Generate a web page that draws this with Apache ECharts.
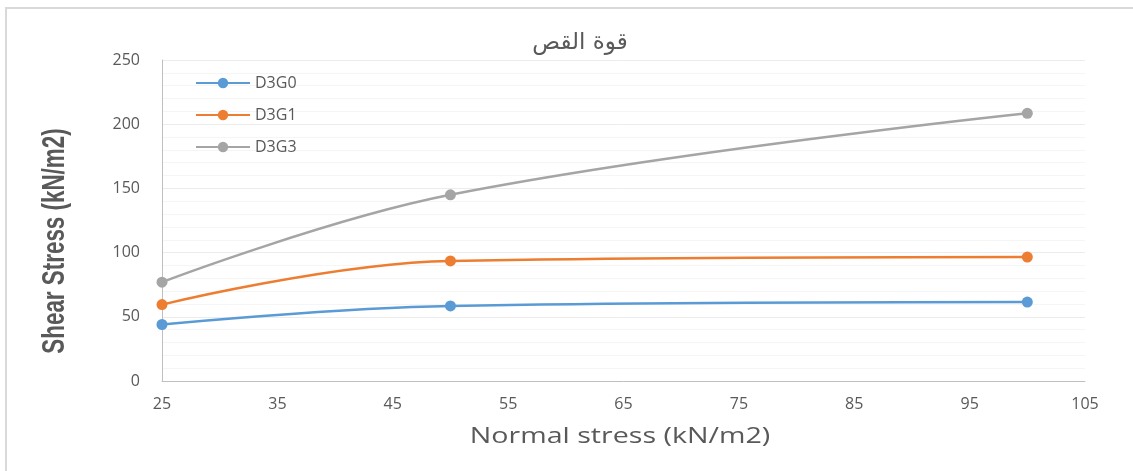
<!DOCTYPE html>
<html>
<head>
<meta charset="utf-8">
<script src="https://cdn.jsdelivr.net/npm/echarts@6/dist/echarts.min.js"></script>
<style>
html,body{margin:0;padding:0;background:#fff;}
#chart{width:1133px;height:471px;}
</style>
</head>
<body>
<div id="chart"></div>
<script>
var titleText = 'قوة القص';
var xName = 'Normal stress (kN/m2)';
var yName = 'Shear Stress (kN/m2)';
var seriesNames = ['D3G0', 'D3G1', 'D3G3'];
var seriesColors = ['#5b9bd5', '#ed7d31', '#a5a5a5'];
var normalStress = [25, 50, 100];
var d3g0 = [44, 58.5, 61.5];
var d3g1 = [59.5, 93.5, 96.5];
var d3g3 = [77, 145, 208.5];
var seriesValues = [d3g0, d3g1, d3g3];

function pairs(xs, ys) { return xs.map(function (x, i) { return [x, ys[i]]; }); }

var chart = echarts.init(document.getElementById('chart'));
var font = '"Open Sans", "Liberation Sans", sans-serif';
chart.setOption({
  animation: false,
  backgroundColor: '#fff',
  graphic: [{
    type: 'rect',
    shape: { x: 6, y: 8, width: 1140, height: 480 },
    style: { fill: 'none', stroke: '#d9d9d9', lineWidth: 2 },
    silent: true, z: -10
  }, {
    type: 'text', x: 620, y: 437, scaleX: 1.3,
    style: { text: xName, font: '22px "Open Sans", sans-serif', fill: '#595959', align: 'center', verticalAlign: 'middle' },
    silent: true
  }, {
    type: 'text', x: 55, y: 241, rotation: Math.PI / 2, scaleX: 0.7,
    style: { text: yName, font: 'bold 32px "Liberation Sans", sans-serif', fill: '#595959', align: 'center', verticalAlign: 'middle' },
    silent: true
  }],
  title: {
    text: titleText, left: 575, top: 27, textAlign: 'center',
    textStyle: { fontFamily: '"DejaVu Sans", sans-serif', fontSize: 23, fontWeight: 'normal', color: '#595959' }
  },
  legend: {
    orient: 'vertical', left: 190, top: 70, itemGap: 16, itemWidth: 54, itemHeight: 13,
    data: seriesNames,
    textStyle: { fontFamily: font, fontSize: 16, color: '#595959' }
  },
  grid: { left: 162, right: 48, top: 60, bottom: 90 },
  xAxis: {
    type: 'value', min: 25, max: 105, interval: 5,
    axisLine: { show: true, lineStyle: { color: '#bfbfbf' } },
    axisTick: { show: false },
    splitLine: { show: false },
    axisLabel: {
      fontFamily: font, fontSize: 16, color: '#595959', margin: 15,
      formatter: function (v) { return ((v - 25) % 10 === 0) ? String(v) : ''; }
    }
  },
  yAxis: {
    type: 'value', min: 0, max: 250, interval: 50,
    axisLine: { show: true, lineStyle: { color: '#bfbfbf' } },
    axisTick: { show: false },
    axisLabel: { fontFamily: font, fontSize: 16, color: '#595959', margin: 22 },
    splitLine: { show: true, lineStyle: { color: '#ececec' } },
    minorTick: { show: false, splitNumber: 5 },
    minorSplitLine: { show: true, lineStyle: { color: '#f5f5f5' } }
  },
  series: seriesNames.map(function (n, i) {
    return {
      name: n, type: 'line', smooth: 0.4,
      data: pairs(normalStress, seriesValues[i]),
      symbol: 'circle', symbolSize: 11,
      itemStyle: { color: seriesColors[i] },
      lineStyle: { color: seriesColors[i], width: 2.5 }
    };
  })
});
</script>
</body>
</html>
